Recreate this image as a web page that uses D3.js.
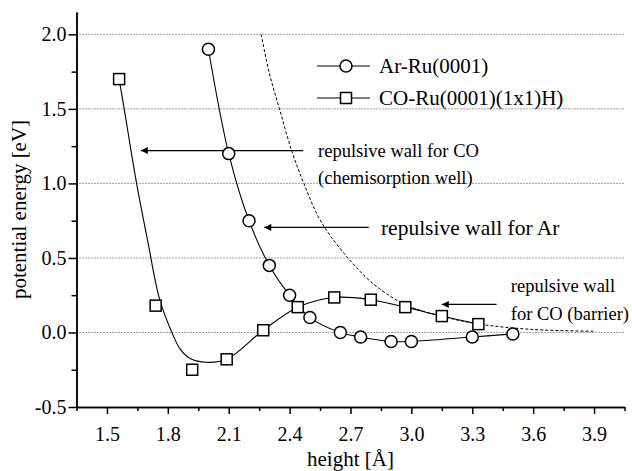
<!DOCTYPE html>
<html>
<head>
<meta charset="utf-8">
<script src="https://cdn.jsdelivr.net/npm/d3@7"></script>
<style>
  body { margin: 0; background: #fff; }
  svg text { font-family: "Liberation Serif", "Times New Roman", serif; fill: #000; }
</style>
</head>
<body>
<div id="chart"></div>
<script>
const FONT = "Liberation Serif, Times New Roman, serif";

// Ar-Ru(0001) measured points
const arX = [2.0, 2.1, 2.2, 2.3, 2.4, 2.5, 2.65, 2.75, 2.9, 3.0, 3.3, 3.5];
const arY = [1.90, 1.20, 0.75, 0.45, 0.25, 0.10, 0.0, -0.03, -0.06, -0.06, -0.03, -0.01];

// CO-Ru(0001)(1x1)H measured points
const coX = [1.56, 1.74, 1.92, 2.09, 2.27, 2.44, 2.62, 2.80, 2.97, 3.15, 3.33];
const coY = [1.70, 0.18, -0.25, -0.18, 0.015, 0.17, 0.235, 0.22, 0.17, 0.11, 0.056];

// fitted curve through the CO points
const coFitX = [1.56, 1.585, 1.646, 1.70, 1.76, 1.82, 1.86, 1.91, 1.99, 2.09, 2.27, 2.44, 2.62, 2.80, 2.97, 3.15, 3.33];
const coFitY = [1.70, 1.50, 1.00, 0.62, 0.22, 0.0, -0.11, -0.175, -0.20, -0.18, 0.015, 0.17, 0.235, 0.22, 0.17, 0.11, 0.056];

// dashed repulsive wall
const wallX = [2.26, 2.30, 2.35, 2.41, 2.47, 2.54, 2.60, 2.70, 2.80, 2.90, 2.98, 3.16, 3.34, 3.6, 3.9];
const wallY = [2.0, 1.74, 1.5, 1.22, 1.0, 0.78, 0.65, 0.48, 0.34, 0.24, 0.18, 0.105, 0.055, 0.02, 0.008];

const xTicks = [1.5, 1.8, 2.1, 2.4, 2.7, 3.0, 3.3, 3.6, 3.9];
const xMinor = [1.35, 1.65, 1.95, 2.25, 2.55, 2.85, 3.15, 3.45, 3.75, 4.05];
const yTicks = [-0.5, 0.0, 0.5, 1.0, 1.5, 2.0];
const yMinor = [-0.25, 0.25, 0.75, 1.25, 1.75];

const W = 632, H = 471;
const margin = {top: 12, right: 7.5, bottom: 64, left: 76.5};
const width = W - margin.left - margin.right;
const height = H - margin.top - margin.bottom;

const svg = d3.select("#chart").append("svg")
    .attr("width", W)
    .attr("height", H)
    .attr("font-family", FONT);

const defs = svg.append("defs");
defs.append("marker")
    .attr("id", "arrow")
    .attr("viewBox", "0 0 10 10")
    .attr("refX", 10).attr("refY", 5)
    .attr("markerWidth", 11).attr("markerHeight", 7)
    .attr("markerUnits", "userSpaceOnUse")
    .attr("orient", "auto")
    .append("path")
    .attr("d", "M0,0 L10,5 L0,10 z")
    .attr("fill", "#000");

const g = svg.append("g")
    .attr("transform", `translate(${margin.left},${margin.top})`);

const x = d3.scaleLinear().domain([1.35, 4.05]).range([0, width]);
const y = d3.scaleLinear().domain([-0.5, 2.15]).range([height, 0]);

// dotted grid lines
g.selectAll(".grid")
    .data(yTicks.filter(d => d > -0.5))
    .enter().append("line")
    .attr("class", "grid")
    .attr("x1", 0).attr("x2", width)
    .attr("y1", d => y(d)).attr("y2", d => y(d))
    .attr("stroke", "#444")
    .attr("stroke-width", 1)
    .attr("stroke-dasharray", "1,2");

// axes
const xAxis = g.append("g")
    .attr("transform", `translate(0,${height})`)
    .call(d3.axisBottom(x).tickValues(xTicks).tickFormat(d => d.toFixed(1)).tickSize(7).tickSizeOuter(0));
const xAxisMinor = g.append("g")
    .attr("transform", `translate(0,${height})`)
    .call(d3.axisBottom(x).tickValues(xMinor).tickFormat("").tickSize(4).tickSizeOuter(0));

const yAxis = g.append("g")
    .call(d3.axisLeft(y).tickValues(yTicks).tickFormat(d => d.toFixed(1)).tickSize(8).tickSizeOuter(0));
const yAxisMinor = g.append("g")
    .call(d3.axisLeft(y).tickValues(yMinor).tickFormat("").tickSize(5).tickSizeOuter(0));

[xAxis, xAxisMinor, yAxis, yAxisMinor].forEach(a => {
    a.attr("font-family", FONT).attr("font-size", 20);
    a.select(".domain").attr("stroke", "#000").attr("stroke-width", 1.5);
    a.selectAll(".tick line").attr("stroke", "#000").attr("stroke-width", 1.5);
});
xAxis.selectAll(".tick text")
    .attr("dy", "1.2em");
yAxis.selectAll(".tick text")
    .attr("x", -10);

// axis titles
svg.append("text")
    .attr("x", margin.left + width / 2)
    .attr("y", 466)
    .attr("text-anchor", "middle")
    .attr("font-size", 21)
    .text("height [Å]");
svg.append("text")
    .attr("transform", `translate(26,${margin.top + height / 2}) rotate(-90)`)
    .attr("text-anchor", "middle")
    .attr("font-size", 21)
    .text("potential energy [eV]");

// dashed wall
const lineGen = d3.line().x(d => x(d[0])).y(d => y(d[1])).curve(d3.curveCatmullRom.alpha(0.5));
const wall = wallX.map((d, i) => [d, wallY[i]]);
g.append("path")
    .datum(wall)
    .attr("fill", "none")
    .attr("stroke", "#000")
    .attr("stroke-width", 1)
    .attr("stroke-dasharray", "3,2")
    .attr("d", lineGen);

// curves
const coFit = coFitX.map((d, i) => [d, coFitY[i]]);
const ar = arX.map((d, i) => [d, arY[i]]);
const co = coX.map((d, i) => [d, coY[i]]);

g.append("path").datum(coFit)
    .attr("fill", "none").attr("stroke", "#000").attr("stroke-width", 1.1)
    .attr("d", lineGen);
g.append("path").datum(ar)
    .attr("fill", "none").attr("stroke", "#000").attr("stroke-width", 1.1)
    .attr("d", lineGen);

// annotations (arrows)
const arrows = [
    {x1: 2.467, x2: 1.667, y: 1.22},
    {x1: 2.79, x2: 2.275, y: 0.705},
    {x1: 3.42, x2: 3.15, y: 0.188}
];
g.selectAll(".arrow")
    .data(arrows)
    .enter().append("line")
    .attr("class", "arrow")
    .attr("x1", d => x(d.x1)).attr("x2", d => x(d.x2))
    .attr("y1", d => y(d.y)).attr("y2", d => y(d.y))
    .attr("stroke", "#000").attr("stroke-width", 1.2)
    .attr("marker-end", "url(#arrow)");

// markers
g.selectAll(".sq")
    .data(co)
    .enter().append("rect")
    .attr("class", "sq")
    .attr("x", d => x(d[0]) - 5.5).attr("y", d => y(d[1]) - 5.5)
    .attr("width", 11).attr("height", 11)
    .attr("fill", "#fff").attr("stroke", "#000").attr("stroke-width", 1.5);
g.selectAll(".ci")
    .data(ar)
    .enter().append("circle")
    .attr("class", "ci")
    .attr("cx", d => x(d[0])).attr("cy", d => y(d[1]))
    .attr("r", 6)
    .attr("fill", "#fff").attr("stroke", "#000").attr("stroke-width", 1.5);

// annotation texts
const notes = [
    {x: 2.54, y: 1.18, size: 18.5, text: "repulsive wall for CO"},
    {x: 2.54, y: 0.995, size: 18.5, text: "(chemisorption well)"},
    {x: 2.85, y: 0.653, size: 21.5, text: "repulsive wall for Ar"},
    {x: 3.49, y: 0.27, size: 18.5, text: "repulsive wall"},
    {x: 3.49, y: 0.083, size: 18.5, text: "for CO (barrier)"}
];
g.selectAll(".note")
    .data(notes)
    .enter().append("text")
    .attr("class", "note")
    .attr("x", d => x(d.x)).attr("y", d => y(d.y))
    .attr("font-family", FONT)
    .attr("font-size", d => d.size)
    .text(d => d.text);

// legend
const legend = svg.append("g").attr("transform", "translate(317,0)");
const legendRows = [
    {label: "Ar-Ru(0001)", shape: "circle", y: 66},
    {label: "CO-Ru(0001)(1x1)H)", shape: "square", y: 98}
];
legendRows.forEach(r => {
    legend.append("line")
        .attr("x1", 0).attr("x2", 53)
        .attr("y1", r.y).attr("y2", r.y)
        .attr("stroke", "#000").attr("stroke-width", 1.1);
    if (r.shape === "circle") {
        legend.append("circle").attr("cx", 29).attr("cy", r.y).attr("r", 6)
            .attr("fill", "#fff").attr("stroke", "#000").attr("stroke-width", 1.5);
    } else {
        legend.append("rect").attr("x", 23.5).attr("y", r.y - 5.5).attr("width", 11).attr("height", 11)
            .attr("fill", "#fff").attr("stroke", "#000").attr("stroke-width", 1.5);
    }
    legend.append("text")
        .attr("x", 62).attr("y", r.y + 7)
        .attr("font-family", FONT)
        .attr("font-size", 21)
        .text(r.label);
});
</script>
</body>
</html>
